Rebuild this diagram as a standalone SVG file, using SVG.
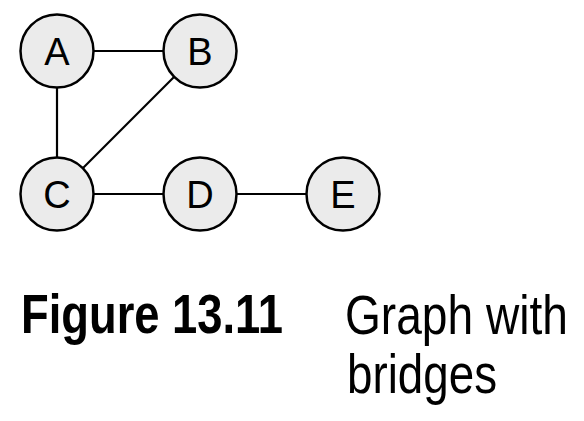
<svg xmlns="http://www.w3.org/2000/svg" width="584" height="421" viewBox="0 0 584 421">
<style>
.node circle{fill:#ebebeb;stroke:#000;stroke-width:2.5}
.node text{font-family:"Liberation Sans",Arial,sans-serif;font-size:38px;text-anchor:middle;fill:#000}
.edges line{stroke:#000;stroke-width:2.2}
.cap{font-family:"Liberation Sans Narrow","Liberation Sans",Arial,sans-serif;font-size:56px;fill:#000}
</style>
<rect width="584" height="421" fill="#fff"/>
<g class="edges">
<line x1="57" y1="51" x2="200" y2="51"/>
<line x1="57" y1="51" x2="57" y2="194"/>
<line x1="200" y1="51" x2="57" y2="194"/>
<line x1="57" y1="194" x2="200" y2="194"/>
<line x1="200" y1="194" x2="343" y2="194"/>
</g>
<g id="A" class="node"><circle cx="57" cy="51" r="36.5"/><text x="57" y="64.5">A</text></g>
<g id="B" class="node"><circle cx="200" cy="51" r="36.5"/><text x="200" y="64.5">B</text></g>
<g id="C" class="node"><circle cx="57" cy="194" r="36.5"/><text x="57" y="207.5">C</text></g>
<g id="D" class="node"><circle cx="200" cy="194" r="36.5"/><text x="200" y="207.5">D</text></g>
<g id="E" class="node"><circle cx="343" cy="194" r="36.5"/><text x="343" y="207.5">E</text></g>
<text class="cap" x="21" y="333" font-weight="bold" textLength="262" lengthAdjust="spacingAndGlyphs">Figure 13.11</text>
<text class="cap" x="345" y="334" textLength="223" lengthAdjust="spacingAndGlyphs">Graph with</text>
<text class="cap" x="347" y="393" textLength="150" lengthAdjust="spacingAndGlyphs">bridges</text>
</svg>
